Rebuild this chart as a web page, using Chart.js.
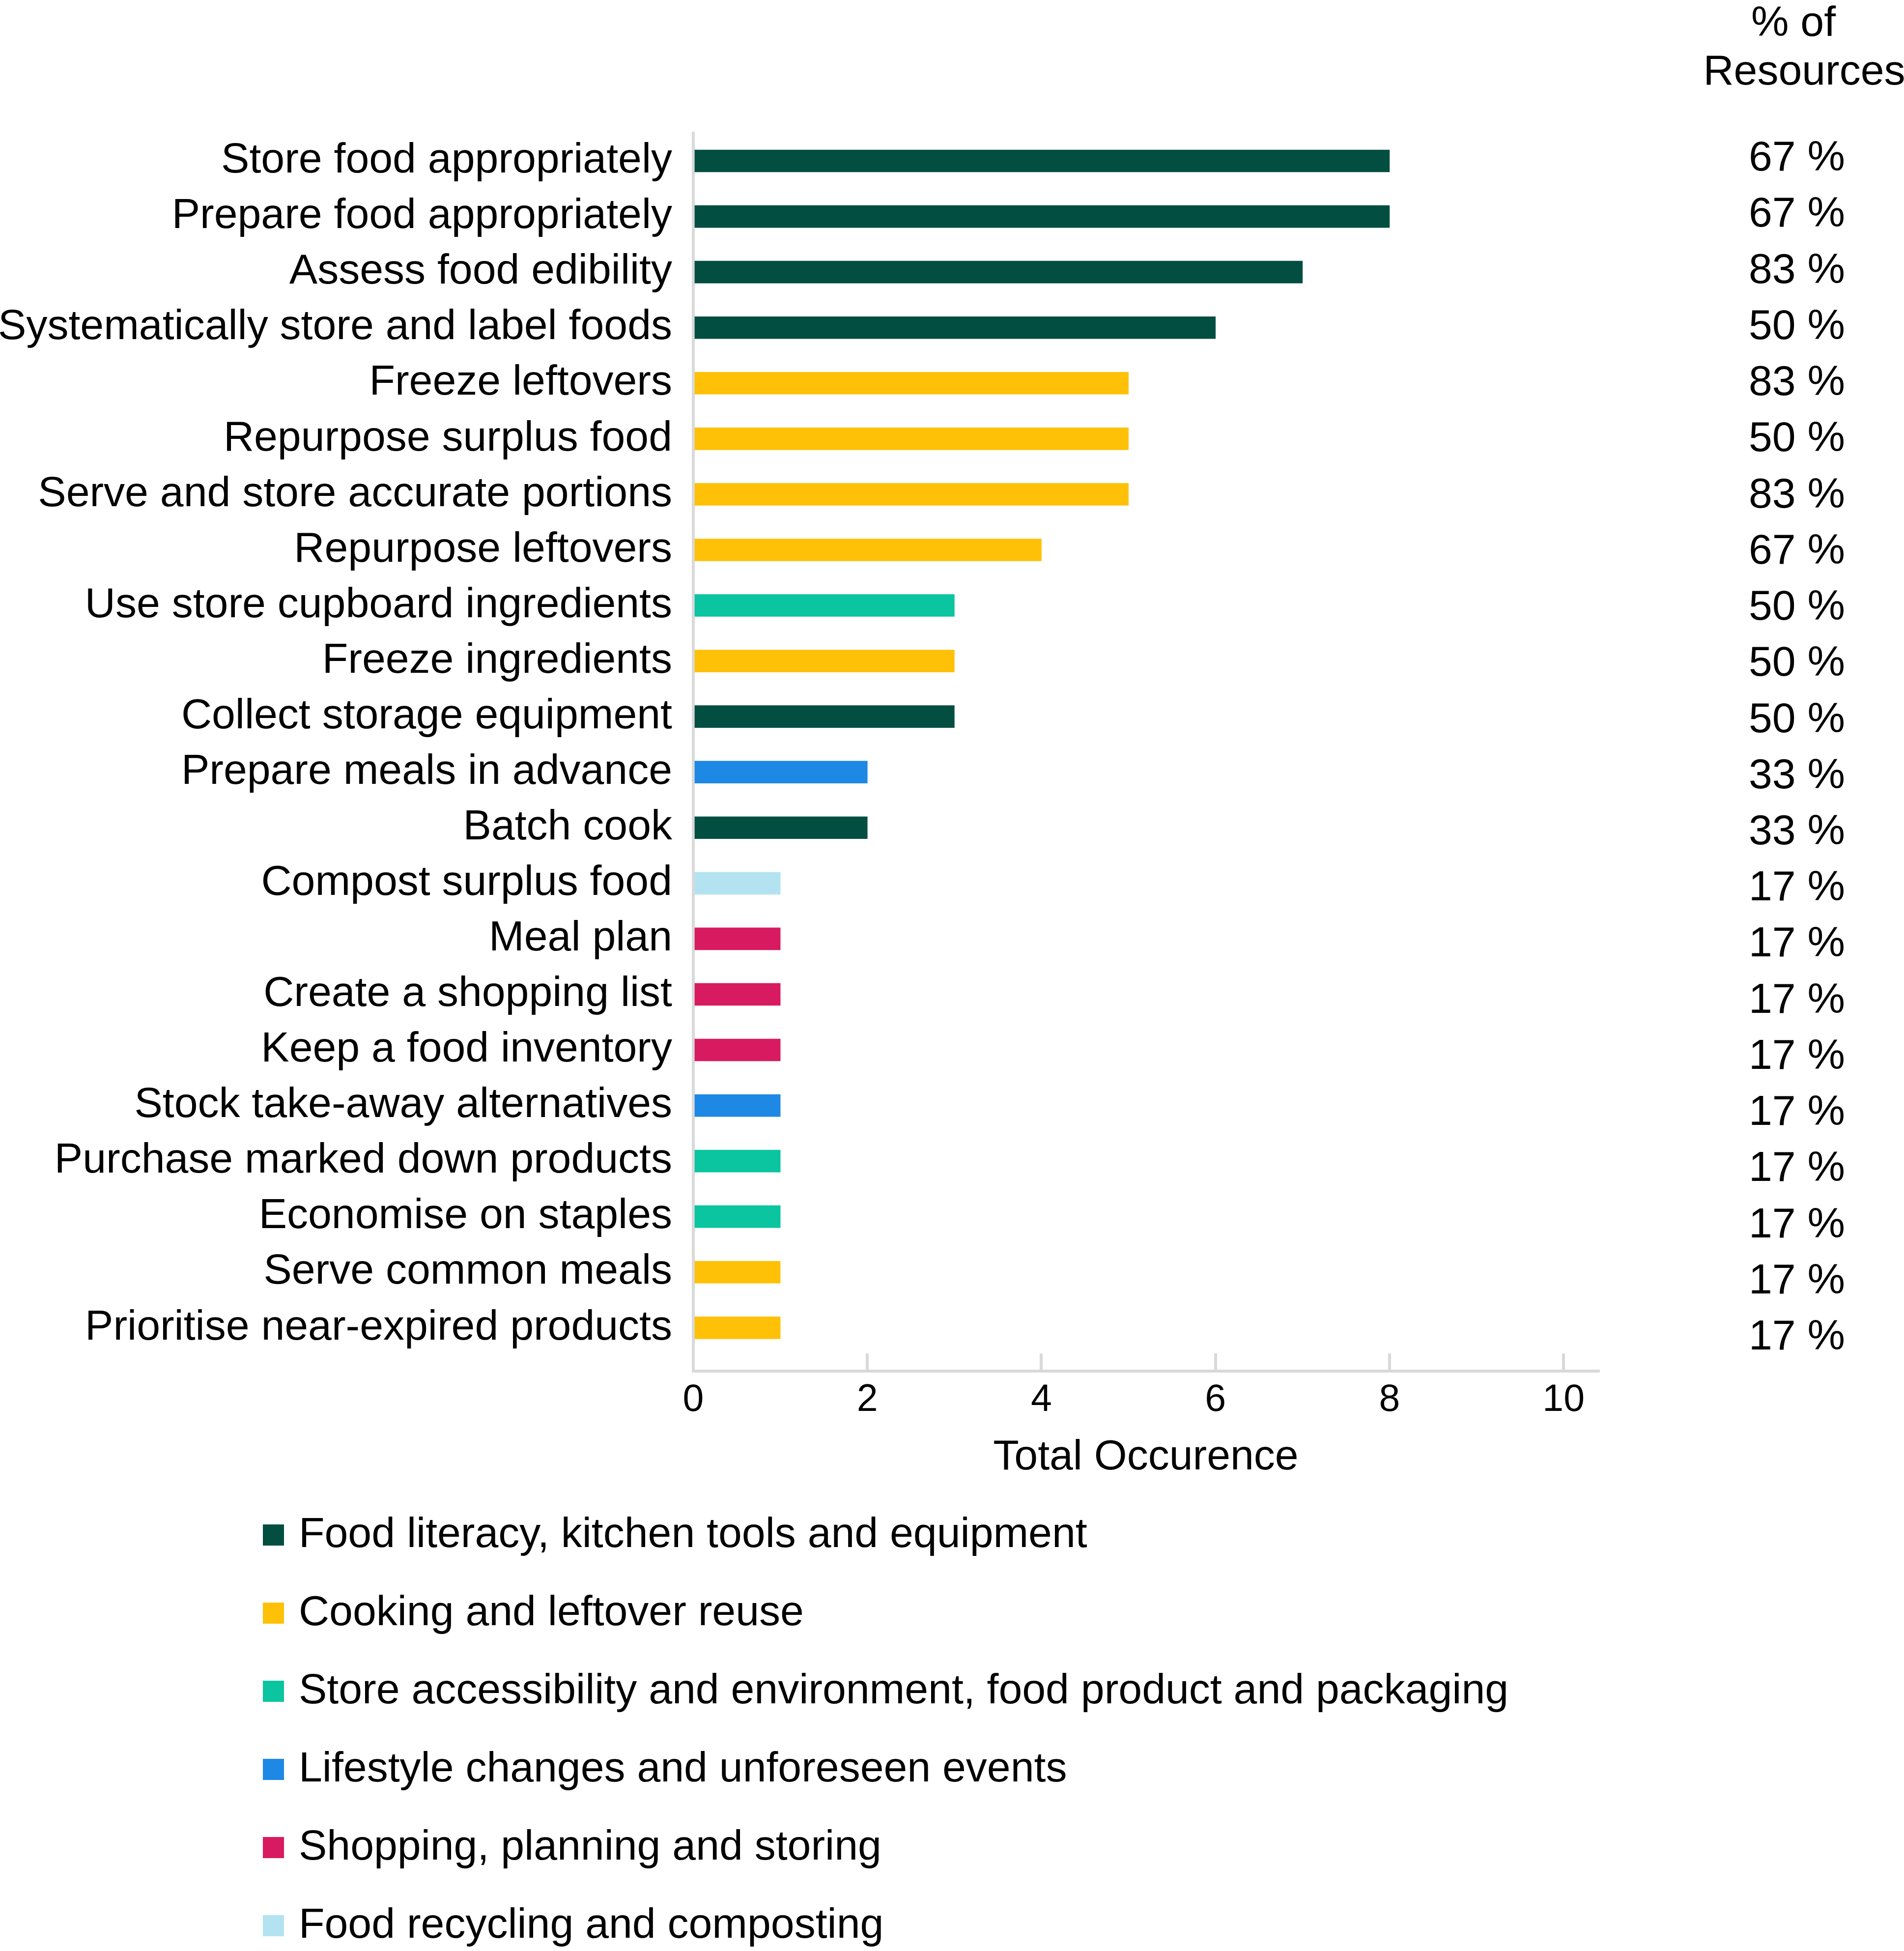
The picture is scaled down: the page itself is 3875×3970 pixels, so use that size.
<!DOCTYPE html>
<html>
<head>
<meta charset="utf-8">
<title>Food waste actions</title>
<script src="https://cdn.jsdelivr.net/npm/chart.js@4.4.1/dist/chart.umd.min.js"></script>
<style>
  body { margin: 0; background: #fff; }
  #chart { display: block; }
</style>
</head>
<body>
<canvas id="chart" width="3875" height="3970"></canvas>
<script>
const actions = [
  "Store food appropriately",
  "Prepare food appropriately",
  "Assess food edibility",
  "Systematically store and label foods",
  "Freeze leftovers",
  "Repurpose surplus food",
  "Serve and store accurate portions",
  "Repurpose leftovers",
  "Use store cupboard ingredients",
  "Freeze ingredients",
  "Collect storage equipment",
  "Prepare meals in advance",
  "Batch cook",
  "Compost surplus food",
  "Meal plan",
  "Create a shopping list",
  "Keep a food inventory",
  "Stock take-away alternatives",
  "Purchase marked down products",
  "Economise on staples",
  "Serve common meals",
  "Prioritise near-expired products",
];
const occurrences = [8, 8, 7, 6, 5, 5, 5, 4, 3, 3, 3, 2, 2, 1, 1, 1, 1, 1, 1, 1, 1, 1];
// index into groups[] for each action
const actionGroup = [0, 0, 0, 0, 1, 1, 1, 1, 2, 1, 0, 3, 0, 5, 4, 4, 4, 3, 2, 2, 1, 1];
const resourcePct = [67, 67, 83, 50, 83, 50, 83, 67, 50, 50, 50, 33, 33, 17, 17, 17, 17, 17, 17, 17, 17, 17];

const groups = [
  "Food literacy, kitchen tools and equipment",
  "Cooking and leftover reuse",
  "Store accessibility and environment, food product and packaging",
  "Lifestyle changes and unforeseen events",
  "Shopping, planning and storing",
  "Food recycling and composting",
];
const groupColors = ["#024E41", "#FFC107", "#0BC4A0", "#1E88E5", "#D81B60", "#B3E3F1"];

const FONT = "'Liberation Sans', Arial, Helvetica, sans-serif";
Chart.defaults.font.family = FONT;
Chart.defaults.color = "#000";

// percentage column, header and the stacked legend underneath
const sideText = {
  id: "sideText",
  afterDraw(chart) {
    const ctx = chart.ctx;
    const yScale = chart.scales.y;
    ctx.save();
    ctx.fillStyle = "#000";
    ctx.font = "86px " + FONT;
    ctx.textBaseline = "middle";

    ctx.textAlign = "center";
    ctx.fillText("% of", 3650, 49);
    ctx.fillText("Resources", 3672, 148);

    ctx.textAlign = "right";
    resourcePct.forEach((p, i) => {
      ctx.fillText(p + " %", 3755, yScale.getPixelForValue(i) - 4 + i * 1.17);
    });

    ctx.textAlign = "left";
    groups.forEach((g, i) => {
      const cy = 3123 + i * 159;
      ctx.fillStyle = groupColors[i];
      ctx.fillRect(535, cy - 21, 43, 43);
      ctx.fillStyle = "#000";
      ctx.fillText(g, 608, cy + 1);
    });
    ctx.restore();
  }
};

new Chart(document.getElementById("chart"), {
  type: "bar",
  plugins: [sideText],
  data: {
    labels: actions,
    datasets: [{
      data: occurrences,
      backgroundColor: actionGroup.map(g => groupColors[g]),
      borderWidth: 0,
      barThickness: 45,
    }],
  },
  options: {
    indexAxis: "y",
    responsive: false,
    animation: false,
    devicePixelRatio: 1,
    layout: { padding: { top: 271, right: 622, bottom: 952, left: 0 } },
    plugins: {
      legend: { display: false },
      tooltip: { enabled: false },
    },
    scales: {
      y: {
        grid: { display: false, drawTicks: false },
        border: { display: true, color: "#D9D9D9", width: 6 },
        ticks: { autoSkip: false, padding: 43, font: { size: 86 }, color: "#000" },
        afterFit: (scale) => { scale.width = 1411; },
        // leave a little extra room under the last bar, as in the original
        afterBuildTicks: (scale) => { scale._valueRange = actions.length + 0.28; },
      },
      x: {
        min: 0,
        max: 10.4,
        grid: {
          drawOnChartArea: false,
          drawTicks: true,
          tickLength: -36,
          color: "#D9D9D9",
          lineWidth: 6,
        },
        border: { display: true, color: "#D9D9D9", width: 6 },
        ticks: {
          stepSize: 2,
          includeBounds: false,
          maxRotation: 0,
          padding: 50,
          font: { size: 77 },
          color: "#000",
        },
        title: {
          display: true,
          text: "Total Occurence",
          font: { size: 86 },
          color: "#000",
          padding: 0,
        },
        afterFit: (scale) => { scale.height = 228; },
      },
    },
  },
});
</script>
</body>
</html>
